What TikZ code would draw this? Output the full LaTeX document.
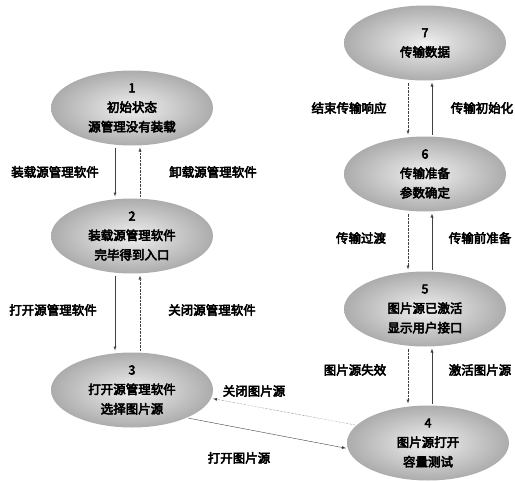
\documentclass[tikz,border=0pt]{standalone}
\usepackage{fontspec}
\setmainfont{Noto Sans CJK SC}
\newfontfamily\statefont{Noto Sans CJK SC}[FakeBold=4]
\usepackage{tikz}
\usetikzlibrary{shapes,arrows,positioning}

\begin{document}
\begin{tikzpicture}[x=1pt,y=-1pt,
  every node/.style={font=\fontsize{12.5}{19.5}\statefont, text=black, outer sep=0pt},
  state/.style={ellipse, minimum width=162pt, minimum height=75pt, inner sep=0pt, align=center,
    inner color=gray!12, outer color=gray!65},
  go/.style={-latex, black!75, shorten >=2pt, shorten <=2pt},
  back/.style={-latex, black!75, densely dotted, shorten >=2pt, shorten <=2pt}]
\useasboundingbox (0,0) rectangle (515,482);

% States, left column
\node[state] (st1) at (132,108) {1\\初始状态\\源管理没有装载};
\node[state] (st2) at (132,236) {2\\装载源管理软件\\完毕得到入口};
\node[state] (st3) at (132,390) {3\\打开源管理软件\\选择图片源};

% States, right column
\node[state] (st7) at (425,43) {7\\传输数据};
\node[state] (st6) at (425,174) {6\\传输准备\\参数确定};
\node[state] (st5) at (425,309) {5\\图片源已激活\\显示用户接口};
\node[state] (st4) at (428,443) {4\\图片源打开\\容量测试};

% Left column transitions
\draw[go] ([xshift=-17pt]st1.south) -- ([xshift=-17pt]st2.north);
\draw[back] ([xshift=8pt]st2.north) -- ([xshift=8pt]st1.south);
\draw[go] ([xshift=-17pt]st2.south) -- ([xshift=-17pt]st3.north);
\draw[back] ([xshift=8pt]st3.north) -- ([xshift=8pt]st2.south);

% Bottom transitions
\draw[go] (st3.-27) -- (st4.184);
\draw[back] (st4.166) -- (st3.-6);

% Right column transitions
\draw[go] ([xshift=4pt]st4.north) -- ([xshift=7pt]st5.south);
\draw[back] ([xshift=-17pt]st5.south) -- ([xshift=-20pt]st4.north);
\draw[go] ([xshift=7pt]st5.north) -- ([xshift=7pt]st6.south);
\draw[back] ([xshift=-17pt]st6.south) -- ([xshift=-17pt]st5.north);
\draw[go] ([xshift=7pt]st6.north) -- ([xshift=7pt]st7.south);
\draw[back] ([xshift=-17pt]st7.south) -- ([xshift=-17pt]st6.north);

% Labels
\node (lb12) at (55,172) {装载源管理软件};
\node (lb21) at (213,172) {卸载源管理软件};
\node (lb23) at (53,310) {打开源管理软件};
\node (lb32) at (212,310) {关闭源管理软件};
\node (lb43) at (254,391) {关闭图片源};
\node (lb34) at (239,458) {打开图片源};
\node (lb54) at (355,370) {图片源失效};
\node (lb45) at (480,370) {激活图片源};
\node (lb65) at (361,238) {传输过渡};
\node (lb56) at (480,238) {传输前准备};
\node (lb76) at (349,108) {结束传输响应};
\node (lb67) at (482,108) {传输初始化};
\end{tikzpicture}
\end{document}
